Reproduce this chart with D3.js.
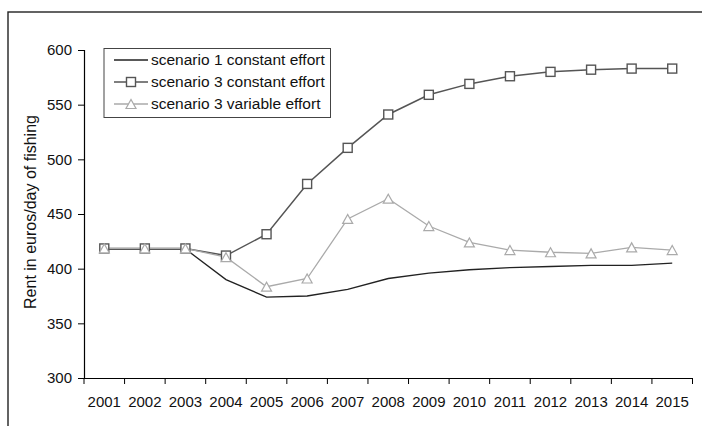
<!DOCTYPE html>
<html>
<head>
<meta charset="utf-8">
<script src="https://cdn.jsdelivr.net/npm/d3@7"></script>
<style>
  html, body { margin: 0; padding: 0; background: #fff; }
  svg { display: block; font-family: "Liberation Sans", Arial, sans-serif; }
</style>
</head>
<body>
<div class="chart_rent"></div>
<script>
//<data>--------------------------------------//
var years = ["2001", "2002", "2003", "2004", "2005", "2006", "2007", "2008", "2009", "2010", "2011", "2012", "2013", "2014", "2015"];
var scenario1Const = [418, 418, 418, 390, 374, 375, 381, 391, 396, 399, 401, 402, 403, 403, 405];
var scenario3Const = [418.5, 418.5, 418.5, 412, 431.5, 477.5, 510.5, 541, 559, 569, 576, 580, 582, 583, 583];
var scenario3Var = [418.5, 418.5, 418.5, 410.5, 383.5, 391, 445.5, 464, 439, 424, 417, 415, 414, 419.5, 417];
var yTicks = [300, 350, 400, 450, 500, 550, 600];
var seriesNames = ["scenario 1 constant effort", "scenario 3 constant effort", "scenario 3 variable effort"];

//<setMargin>-------------------------------//
var W = 702, H = 426;
var margin = { top: 50, right: 9.5, bottom: 48, left: 84 },
    width = W - margin.left - margin.right,
    height = H - margin.top - margin.bottom;

var svg = d3.select(".chart_rent").append("svg")
    .attr("width", W).attr("height", H);

// outer frame (only top + left visible in the original)
svg.append("rect")
    .attr("x", 8).attr("y", 12)
    .attr("width", 900).attr("height", 900)
    .attr("fill", "none").attr("stroke", "#222").attr("stroke-width", 1.4);

var g = svg.append("g").attr("transform", "translate(" + margin.left + "," + margin.top + ")");

//<scales>------------------------------------//
var x = d3.scaleBand().domain(years).range([0, width]);
var y = d3.scaleLinear().domain([300, 600]).range([height, 0]);
var cx = function (d, i) { return x(years[i]) + x.bandwidth() / 2; };

//<axis>--------------------------------------//
var yAxis = g.append("g")
    .call(d3.axisLeft(y).tickValues(yTicks).tickSize(6).tickPadding(6));
var xAxis = g.append("g").attr("transform", "translate(0," + height + ")")
    .call(d3.axisBottom(x).tickSize(0).tickPadding(18));

// x ticks sit on the band edges, not centres
var edges = years.map(function (v) { return x(v); }).concat([width]);
xAxis.selectAll(".edge").data(edges).enter().append("line")
    .attr("x1", function (d) { return d; }).attr("x2", function (d) { return d; })
    .attr("y1", 0).attr("y2", 6)
    .attr("stroke", "#000");

[yAxis, xAxis].forEach(function (a) {
    a.select(".domain").attr("stroke", "#000").attr("stroke-width", 1.2);
    a.selectAll(".tick line").attr("stroke", "#000");
    a.selectAll("text").attr("fill", "#111").style("font-size", "15px")
        .style("font-family", "'Liberation Sans', Arial, sans-serif");
});

svg.append("text")
    .attr("transform", "translate(36," + (margin.top + 162) + ") rotate(-90)")
    .attr("text-anchor", "middle")
    .style("font-size", "16px")
    .attr("fill", "#111")
    .text("Rent in euros/day of fishing");

//<lines>-------------------------------------//
var line = d3.line().x(cx).y(function (d) { return y(d); });

g.append("path").datum(scenario1Const)
    .attr("d", line).attr("fill", "none")
    .attr("stroke", "#222").attr("stroke-width", 1.3);

g.append("path").datum(scenario3Const)
    .attr("d", line).attr("fill", "none")
    .attr("stroke", "#555").attr("stroke-width", 1.5);

g.append("path").datum(scenario3Var)
    .attr("d", line).attr("fill", "none")
    .attr("stroke", "#aaa").attr("stroke-width", 1.3);

//<markers>-----------------------------------//
var sq = 9;
g.selectAll(".sq").data(scenario3Const).enter().append("rect")
    .attr("x", function (d, i) { return cx(d, i) - sq / 2; })
    .attr("y", function (d) { return y(d) - sq / 2; })
    .attr("width", sq).attr("height", sq)
    .attr("fill", "#fff").attr("stroke", "#555").attr("stroke-width", 1.4);

var tri = function (px, py) {
    return "M" + (px - 5) + "," + (py + 4.5) + "L" + (px + 5) + "," + (py + 4.5) + "L" + px + "," + (py - 4.5) + "Z";
};
g.selectAll(".tri").data(scenario3Var).enter().append("path")
    .attr("d", function (d, i) { return tri(cx(d, i), y(d)); })
    .attr("fill", "#fff").attr("stroke", "#aaa").attr("stroke-width", 1.2);

//<legend>------------------------------------//
var leg = svg.append("g").attr("transform", "translate(104,48.5)");
leg.append("rect").attr("width", 226.5).attr("height", 69)
    .attr("fill", "#fff").attr("stroke", "#444").attr("stroke-width", 1);

var legColor = ["#222", "#555", "#aaa"];
seriesNames.forEach(function (name, i) {
    var ly = 11.5 + i * 22;
    leg.append("line").attr("x1", 10).attr("x2", 44).attr("y1", ly).attr("y2", ly)
        .attr("stroke", legColor[i]).attr("stroke-width", i == 1 ? 1.5 : 1.3);
    if (i == 1) {
        leg.append("rect").attr("x", 27 - sq / 2).attr("y", ly - sq / 2)
            .attr("width", sq).attr("height", sq)
            .attr("fill", "#fff").attr("stroke", "#555").attr("stroke-width", 1.4);
    }
    if (i == 2) {
        leg.append("path").attr("d", tri(27, ly))
            .attr("fill", "#fff").attr("stroke", "#aaa").attr("stroke-width", 1.2);
    }
    leg.append("text").attr("x", 47).attr("y", ly).attr("dy", "0.35em")
        .style("font-size", "15.5px").attr("fill", "#111")
        .text(name);
});
</script>
</body>
</html>
